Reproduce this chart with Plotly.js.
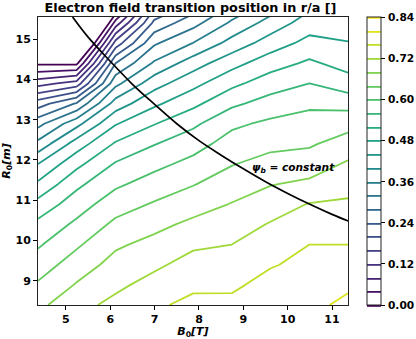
<!DOCTYPE html>
<html><head><meta charset="utf-8">
<script src="https://cdn.plot.ly/plotly-3.0.1.min.js"></script>
<style>html,body{margin:0;padding:0;background:#fff}</style>
</head><body><div id="chart" style="width:416px;height:339px"></div>
<script>
// Grid: magnetic field B0 [T] (columns) and major radius R0 [m] (rows)
const B0 = [4.37, 5.24, 6.12, 6.99, 7.87, 8.74, 9.61, 10.49, 11.36];
const R0 = [8.4, 8.9, 9.4, 9.9, 10.4, 10.9, 11.4, 11.9, 12.4, 12.9, 13.4, 13.9, 14.4, 14.9, 15.4, 15.6];

// Electron field transition position r/a, one array per B0 column (values along R0)
const rA_B0_437  = [0.670, 0.645, 0.620, 0.595, 0.570, 0.534, 0.487, 0.440, 0.372, 0.307, 0.221, 0.104, -0.007, -0.118, -0.229, -0.273];
const rA_B0_524  = [0.708, 0.683, 0.659, 0.634, 0.608, 0.581, 0.551, 0.509, 0.459, 0.387, 0.284, 0.137, -0.009, -0.152, -0.294, -0.352];
const rA_B0_612  = [0.730, 0.712, 0.694, 0.674, 0.649, 0.622, 0.593, 0.564, 0.525, 0.477, 0.418, 0.349, 0.280, 0.177, 0.058, 0.008];
const rA_B0_699  = [0.753, 0.733, 0.713, 0.692, 0.669, 0.644, 0.617, 0.589, 0.558, 0.518, 0.472, 0.424, 0.366, 0.314, 0.251, 0.223];
const rA_B0_787  = [0.771, 0.752, 0.734, 0.714, 0.689, 0.663, 0.638, 0.612, 0.584, 0.552, 0.510, 0.468, 0.422, 0.361, 0.306, 0.283];
const rA_B0_874  = [0.770, 0.753, 0.736, 0.720, 0.701, 0.682, 0.660, 0.638, 0.617, 0.592, 0.552, 0.510, 0.466, 0.415, 0.367, 0.348];
const rA_B0_961  = [0.790, 0.773, 0.757, 0.740, 0.723, 0.701, 0.678, 0.654, 0.630, 0.608, 0.576, 0.541, 0.503, 0.459, 0.416, 0.398];
const rA_B0_1049 = [0.789, 0.779, 0.770, 0.760, 0.741, 0.722, 0.688, 0.660, 0.635, 0.615, 0.593, 0.560, 0.527, 0.493, 0.460, 0.447];
const rA_B0_1136 = [0.810, 0.793, 0.776, 0.760, 0.743, 0.726, 0.706, 0.685, 0.658, 0.626, 0.586, 0.537, 0.505, 0.482, 0.460, 0.451];

// Contour levels and colorbar ticks
const levelStart = 0.0, levelEnd = 0.84, levelStep = 0.04;
const cbTicks = [0.00, 0.12, 0.24, 0.36, 0.48, 0.60, 0.72, 0.84];
const cbTickText = ['0.00', '0.12', '0.24', '0.36', '0.48', '0.60', '0.72', '0.84'];

// psi_b = constant curve
const psiB0 = [5.15, 5.5, 6.0, 6.5, 7.0, 7.5, 8.0, 8.5, 9.0, 9.5, 10.0, 10.5, 11.0, 11.4];
const psiR0 = [15.55, 15.05, 14.45, 13.88, 13.38, 12.90, 12.48, 12.12, 11.78, 11.46, 11.17, 10.90, 10.65, 10.47];

const xTicks = [5, 6, 7, 8, 9, 10, 11];
const yTicks = [9, 10, 11, 12, 13, 14, 15];

const columns = [rA_B0_437, rA_B0_524, rA_B0_612, rA_B0_699, rA_B0_787, rA_B0_874, rA_B0_961, rA_B0_1049, rA_B0_1136];
const z = R0.map((_, j) => columns.map(c => c[j]));

const FONT = 'DejaVu Sans, Liberation Sans, sans-serif';
const tickFont = {family: FONT, size: 11, color: '#000', weight: 'bold'};

const contour = {
  type: 'contour',
  x: B0, y: R0, z: z,
  zmin: levelStart, zmax: levelEnd, zauto: false,
  autocontour: false,
  contours: {start: levelStart, end: levelEnd, size: levelStep, coloring: 'lines', showlabels: false},
  line: {width: 1.8, smoothing: 0},
  colorscale: 'Viridis',
  hoverinfo: 'skip',
  colorbar: {
    x: 1.061, xanchor: 'left', xpad: 0,
    y: 0.5, yanchor: 'middle', ypad: 0,
    len: 1, lenmode: 'fraction',
    thickness: 14, thicknessmode: 'pixels',
    outlinewidth: 1, outlinecolor: '#222',
    tickmode: 'array', tickvals: cbTicks,
    ticks: 'outside', ticklen: 4, tickwidth: 1, tickcolor: '#000',
    showticklabels: false
  }
};

const psi = {
  type: 'scatter', mode: 'lines',
  x: psiB0, y: psiR0,
  line: {color: '#000', width: 1.7, shape: 'spline'},
  hoverinfo: 'skip', showlegend: false
};

// colorbar tick labels placed beside the colorbar ticks
const cbLabels = cbTicks.map((v, i) => ({
  x: 1.126, xref: 'paper', y: v / levelEnd, yref: 'paper',
  xanchor: 'left', yanchor: 'middle', showarrow: false, borderpad: 0,
  text: cbTickText[i], font: {family: FONT, size: 10.6, color: '#000', weight: 'bold'}
}));

const layout = {
  width: 416, height: 339,
  margin: {l: 38, r: 68, t: 17, b: 34},
  paper_bgcolor: '#fff', plot_bgcolor: '#fff',
  showlegend: false,
  title: {
    text: 'Electron field transition position in r/a []',
    font: {family: FONT, size: 12.8, color: '#000', weight: 'bold'},
    x: 0.458, xref: 'container', xanchor: 'center',
    y: 1 - 8 / 339, yref: 'container', yanchor: 'middle'
  },
  xaxis: {
    range: [4.37, 11.36], tickvals: xTicks, ticktext: xTicks.map(String),
    showgrid: false, zeroline: false,
    showline: true, mirror: true, linecolor: '#222', linewidth: 1,
    ticks: 'outside', ticklen: 4, tickcolor: '#000',
    tickfont: tickFont,
    title: {text: '<i>B</i><sub>0</sub><i>[T]</i>', standoff: 2,
            font: {family: FONT, size: 11, color: '#000', weight: 'bold'}}
  },
  yaxis: {
    range: [8.4, 15.55], tickvals: yTicks, ticktext: yTicks.map(String),
    showgrid: false, zeroline: false,
    showline: true, mirror: true, linecolor: '#222', linewidth: 1,
    ticks: 'outside', ticklen: 4, tickcolor: '#000',
    tickfont: tickFont,
    title: {text: '<i>R</i><sub>0</sub><i>[m]</i>', standoff: 4,
            font: {family: FONT, size: 11, color: '#000', weight: 'bold'}}
  },
  annotations: [{
    x: 9.15, y: 11.8, xref: 'x', yref: 'y', xanchor: 'left', yanchor: 'middle',
    text: '<i>ψ<sub>b</sub> = constant</i>', showarrow: false,
    font: {family: FONT, size: 10.6, color: '#000', weight: 'bold'}
  }].concat(cbLabels)
};

Plotly.newPlot('chart', [contour, psi], layout, {staticPlot: true, displayModeBar: false});
</script>
</body></html>
